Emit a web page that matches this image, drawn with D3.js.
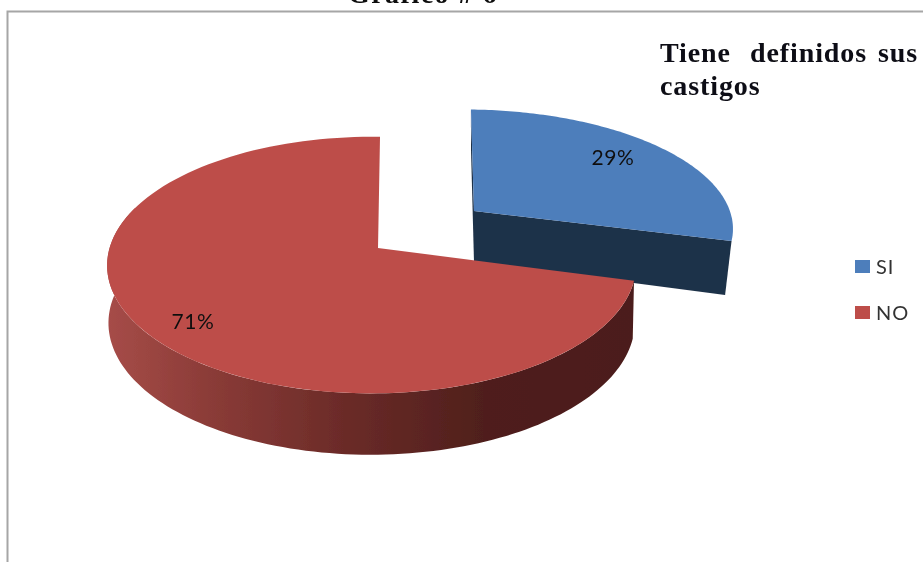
<!DOCTYPE html>
<html><head><meta charset="utf-8">
<script src="https://cdn.jsdelivr.net/npm/d3@7"></script>
<style>html,body{margin:0;padding:0;background:#fff;overflow:hidden}svg{display:block}</style>
</head><body><svg id="c" width="923" height="562"></svg>
<script>
const categories = ["SI", "NO"];
const values = [29, 71];
const labels = ["29%", "71%"];
const topColors = ["#4d7ebb", "#bd4e4a"];
const wallColors = ["#1f3249", "#4e1e1b"];
const heading = [["Tiene", 660], ["definidos", 750], ["sus", 878]];

const W = 923, H = 562;
const svg = d3.select("#c");
const defs = svg.append("defs");
defs.append("filter").attr("id","soft").attr("x","-5%").attr("y","-5%").attr("width","110%").attr("height","110%")
  .append("feGaussianBlur").attr("stdDeviation",0.45);
const grad = defs.append("linearGradient").attr("id","wall").attr("gradientUnits","userSpaceOnUse")
  .attr("x1",108).attr("x2",632).attr("y1",0).attr("y2",0);
[[0,"#a64c48"],[0.2,"#8a3b37"],[0.45,"#6b2b28"],[0.72,"#4f1f1c"],[1,"#4c1d1a"]].forEach(s=>
  grad.append("stop").attr("offset",s[0]).attr("stop-color",s[1]));

const root = svg.append("g").attr("filter","url(#soft)");

// frame
root.append("path").attr("d",`M7.5 ${H}V11.5H${W}`).attr("fill","none").attr("stroke","#a6a6a6").attr("stroke-width",2);

// clipped document caption
root.append("text").attr("x",423).attr("y",3).attr("text-anchor","middle").attr("letter-spacing",1.5)
  .attr("font-family","'Liberation Serif',serif").attr("font-weight","bold").attr("font-size",28).attr("fill","#111")
  .text("Gráfico # 6");

// heading
const hg = root.append("g").attr("font-family","'Liberation Serif',serif").attr("font-weight","bold").attr("font-size",28).attr("fill","#0c0c14");
hg.selectAll("text.w").data(heading).join("text").attr("class","w").attr("x",d=>d[1]).attr("y",62).attr("letter-spacing",0.9).text(d=>d[0]);
hg.append("text").attr("x",660).attr("y",95).attr("letter-spacing",0.9).text("castigos");

// pie geometry
const rot = 0.5 * Math.PI/180;
const arcs = d3.pie().sort(null).startAngle(rot).endAngle(2*Math.PI+rot)(values);
const line = d3.line().x(d=>d[0]).y(d=>d[1]);
const views = [
  {ax:474, ay:211, a:261, b:115, p:0.133, q:0.02, shear:0.05, sx:0.975, ky:1.1, D:51},
  {ax:378, ay:248, a:262, b:126, p:0.133, q:0.024, shear:0, sx:0.995, ky:1.03, D:57}
];
function proj(t, r, c){
  const u=r*Math.sin(t), v=r*Math.cos(t), w=1+c.p*v+c.q*u;
  const y=c.b*v/w;
  return [c.ax+c.a*u/w-c.shear*y, c.ay-y];
}
function low(pt, c){ return [c.ax+(pt[0]-c.ax)*c.sx, c.ay+(pt[1]-c.ay)*c.ky+c.D]; }
const rim = (t0,t1,c)=>d3.range(0,121).map(i=>proj(t0+(t1-t0)*i/120,1,c));

// blue slice (exploded): drawn first, the red rim overlaps it
(function(){
  const d=arcs[0], c=views[0];
  const ap=[c.ax,c.ay], st=proj(d.startAngle,1,c), en=proj(d.endAngle,1,c);
  root.append("path").attr("d",line([st,ap,low(ap,c),low(st,c)])+"Z").attr("fill",wallColors[0]);
  root.append("path").attr("d",line([ap,en,low(en,c),low(ap,c)])+"Z").attr("fill",wallColors[0]);
  root.append("path").attr("d",line([ap,...rim(d.startAngle,d.endAngle,c)])+"Z").attr("fill",topColors[0]);
})();

// red slice
(function(){
  const d=arcs[1], c=views[1];
  const wt0=d.startAngle, wt1=d.startAngle+(d.endAngle-d.startAngle)*0.72;
  const top=rim(wt0,wt1,c);
  root.append("path").attr("d",line([...top,...top.slice().reverse().map(p=>low(p,c))])+"Z").attr("fill","url(#wall)");
  root.append("path").attr("d",line([[c.ax,c.ay],...rim(d.startAngle,d.endAngle,c)])+"Z").attr("fill",topColors[1]);
})();

// data labels
const lab = root.append("g").attr("font-family","Lato,'Open Sans',sans-serif").attr("font-size",21).attr("letter-spacing",0.6).attr("fill","#111").attr("text-anchor","middle");
lab.append("text").attr("x",613).attr("y",165).text(labels[0]);
lab.append("text").attr("x",193).attr("y",329).text(labels[1]);

// legend
const legY = d3.scalePoint().domain(categories).range([266.5,312.5]);
const leg = root.append("g").selectAll("g").data(categories).join("g").attr("transform",d=>`translate(855,${legY(d)})`);
leg.append("rect").attr("y",-6.5).attr("width",15).attr("height",13).attr("fill",(d,i)=>topColors[i]);
leg.append("text").attr("x",21).attr("y",7).attr("font-family","Lato,'Open Sans',sans-serif").attr("font-size",20).attr("letter-spacing",1).attr("fill","#333").text(d=>d);
</script></body></html>
